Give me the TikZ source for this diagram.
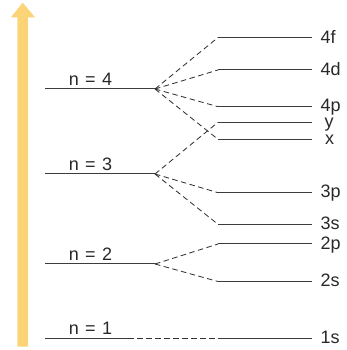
\documentclass[tikz,border=0pt]{standalone}
\usepackage{fontspec}
\setmainfont{Liberation Sans}
\definecolor{arrowfill}{RGB}{250,212,118}
\definecolor{levelgray}{RGB}{60,60,60}
\definecolor{textgray}{RGB}{40,40,40}
\tikzset{
  level/.style={draw=levelgray, line width=1pt},
  link/.style={draw=levelgray!85!black, line width=0.85pt, dash pattern=on 5.5pt off 3.5pt},
  nlabel/.style={anchor=base, inner sep=0pt, font=\fontsize{18}{20}\selectfont, text=textgray},
  rlabel/.style={anchor=base west, inner sep=0pt, font=\fontsize{18}{20}\selectfont, text=textgray}
}
\newcommand{\nlab}[1]{n\hspace{0.36em}=\hspace{0.36em}#1}
\begin{document}
\begin{tikzpicture}[x=1pt,y=1pt]
\useasboundingbox (0,0) rectangle (346,350);
% energy arrow
\fill[arrowfill] (17.3,3.3) -- (28,3.3) -- (28,332.7) -- (35,332.7) -- (22.7,347.3) -- (11,332.7) -- (17.3,332.7) -- cycle;
% left levels
\coordinate (n4L) at (45,261); \coordinate (n4R) at (155,261);
\coordinate (n3L) at (45,176); \coordinate (n3R) at (155,176);
\coordinate (n2L) at (45,86);  \coordinate (n2R) at (155,86);
\coordinate (n1L) at (45,11.5);  \coordinate (n1R) at (128,11.5);
\draw[level] (n4L) -- (n4R);
\draw[level] (n3L) -- (n3R);
\draw[level] (n2L) -- (n2R);
\draw[level] (n1L) -- (n1R);
\node[nlabel] (ln4) at (90.5,264.5) {\nlab{4}};
\node[nlabel] (ln3) at (90.5,179.5) {\nlab{3}};
\node[nlabel] (ln2) at (90.5,89.5) {\nlab{2}};
\node[nlabel] (ln1) at (90.5,15) {\nlab{1}};
% right levels
\foreach \nm/\yy in {f4/312.5, d4/280, p4/243.3, y3/227.7, x4/210.7, p3/157.3, s3/125.7, p2/106, s2/68.5, s1/11.5}{
  \coordinate (\nm L) at (218,\yy);
  \coordinate (\nm R) at (312,\yy);
  \draw[level] (\nm L) -- (\nm R);
}
\node[rlabel] (t4f) at (320.3,306.8) {4f};
\node[rlabel] (t4d) at (320.3,274.5) {4d};
\node[rlabel] (t4p) at (320.3,238.8) {4p};
\node[rlabel] (ty)  at (324.5,222.3) {y};
\node[rlabel] (tx)  at (324.8,205.2) {x};
\node[rlabel] (t3p) at (320.3,152.3) {3p};
\node[rlabel] (t3s) at (320.3,120.5) {3s};
\node[rlabel] (t2p) at (320.3,100.3) {2p};
\node[rlabel] (t2s) at (320.3,63) {2s};
\node[rlabel] (t1s) at (320.3,6.5) {1s};
% connectors
\draw[link] (n4R) -- (f4L);
\draw[link] (n4R) -- (d4L);
\draw[link] (n4R) -- (p4L);
\draw[link] (n4R) -- (x4L);
\draw[link] (n3R) -- (y3L);
\draw[link] (n3R) -- (p3L);
\draw[link] (n3R) -- (s3L);
\draw[link] (n2R) -- (p2L);
\draw[link] (n2R) -- (s2L);
\draw[link] (n1R) -- (s1L);
\end{tikzpicture}
\end{document}
